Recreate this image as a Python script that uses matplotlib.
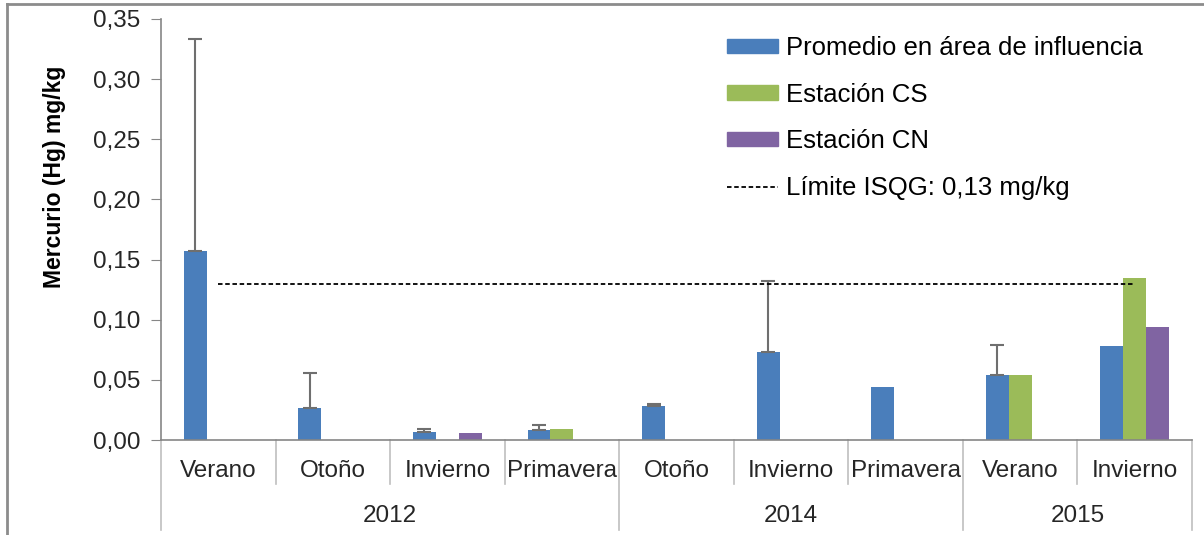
import numpy as np
import matplotlib.pyplot as plt
import matplotlib.transforms as mtransforms
from matplotlib.patches import Patch
from matplotlib.lines import Line2D

plt.rcParams['font.family'] = ['Liberation Sans', 'DejaVu Sans']

# datos
estaciones = ['Verano', 'Otoño', 'Invierno', 'Primavera', 'Otoño', 'Invierno', 'Primavera', 'Verano', 'Invierno']
anios = ['2012', '2014', '2015']
anios_n = [4, 3, 2]   # estaciones por año
promedio = [0.157, 0.027, 0.007, 0.008, 0.028, 0.073, 0.044, 0.054, 0.078]
promedio_sup = [0.333, 0.056, 0.009, 0.0125, 0.030, 0.132, np.nan, 0.079, np.nan]
estacion_cs = [np.nan, np.nan, np.nan, 0.009, np.nan, np.nan, np.nan, 0.054, 0.135]
estacion_cn = [np.nan, np.nan, 0.006, np.nan, np.nan, np.nan, np.nan, np.nan, 0.094]
limite = 0.13
yticks = [0, 0.05, 0.10, 0.15, 0.20, 0.25, 0.30, 0.35]

azul = '#4a7ebb'
verde = '#9bbb59'
morado = '#8064a2'
gris = '#868686'

fig = plt.figure(figsize=(12.04, 5.35), dpi=100)
ax = fig.add_axes([161/1204, 1-440/535, (1192-161)/1204, (440-19)/535])

x = np.arange(len(estaciones))
w = 0.2
ax.bar(x - w, promedio, w, color=azul)
ax.bar(x, estacion_cs, w, color=verde)
ax.bar(x + w, estacion_cn, w, color=morado)

# barras de error (solo hacia arriba)
prom = np.array(promedio)
sup = np.array(promedio_sup)
m = ~np.isnan(sup)
ax.errorbar(x[m] - w, prom[m], yerr=[np.zeros(m.sum()), sup[m] - prom[m]],
            fmt='none', ecolor='#6f6f6f', elinewidth=1.5, capsize=5, capthick=1.5)

# limite ISQG
ax.plot([x[0], x[-1]], [limite, limite], color='black', ls=(0, (2.5, 1.5)), lw=1.3)

ax.set_xlim(-0.5, len(estaciones) - 0.5)
ax.set_ylim(0, 0.35)
ax.set_yticks(yticks)
ax.set_yticklabels([f'{v:.2f}'.replace('.', ',') for v in yticks], fontsize=17.5, color='#262626')
ax.set_ylabel('Mercurio (Hg) mg/kg', fontsize=16.5, fontweight='bold')
ax.yaxis.set_label_coords(-0.092, 0.625)
ax.tick_params(axis='y', length=7, color=gris, pad=8)

for s in ['top', 'right']:
    ax.spines[s].set_visible(False)
for s in ['left', 'bottom']:
    ax.spines[s].set_color(gris)
    ax.spines[s].set_linewidth(1.2)

# eje x de dos niveles
ax.set_xticks([])
trans = mtransforms.blended_transform_factory(ax.transData, ax.transAxes)
h1 = -44/421
h2 = -90/421
for i, lab in enumerate(estaciones):
    ax.text(i, -31/421, lab, transform=trans, ha='center', va='center', fontsize=17.5, color='#262626')

bordes = [-0.5]
pos = -0.5
for n in anios_n:
    pos += n
    bordes.append(pos)
for b in np.arange(-0.5, len(estaciones), 1.0):
    bajo = h2 if b in bordes else h1
    ax.plot([b, b], [0, bajo], transform=trans, color='#bfbfbf', lw=1.2, clip_on=False)

ini = -0.5
for a, n in zip(anios, anios_n):
    ax.text(ini + n/2, -76/421, a, transform=trans, ha='center', va='center', fontsize=17.5, color='#262626')
    ini += n

# leyenda
handles = [Patch(color=azul), Patch(color=verde), Patch(color=morado),
           Line2D([], [], color='black', ls=(0, (2.5, 1.5)), lw=1.3)]
labels = ['Promedio en área de influencia', 'Estación CS', 'Estación CN', 'Límite ISQG: 0,13 mg/kg']
fig.legend(handles, labels, loc='upper left', bbox_to_anchor=(727/1204, 1-36/535),
           frameon=False, fontsize=18.5, handlelength=2.0, handleheight=0.5,
           handletextpad=0.3, labelspacing=0.88, borderpad=0, borderaxespad=0)

# marco de la imagen
fig.add_artist(Line2D([7/1204, 1], [1-4/535, 1-4/535], transform=fig.transFigure, color='#8c8c8c', lw=2))
fig.add_artist(Line2D([7/1204, 7/1204], [0, 1-4/535], transform=fig.transFigure, color='#8c8c8c', lw=2))

fig.savefig('out.png', dpi=100)
